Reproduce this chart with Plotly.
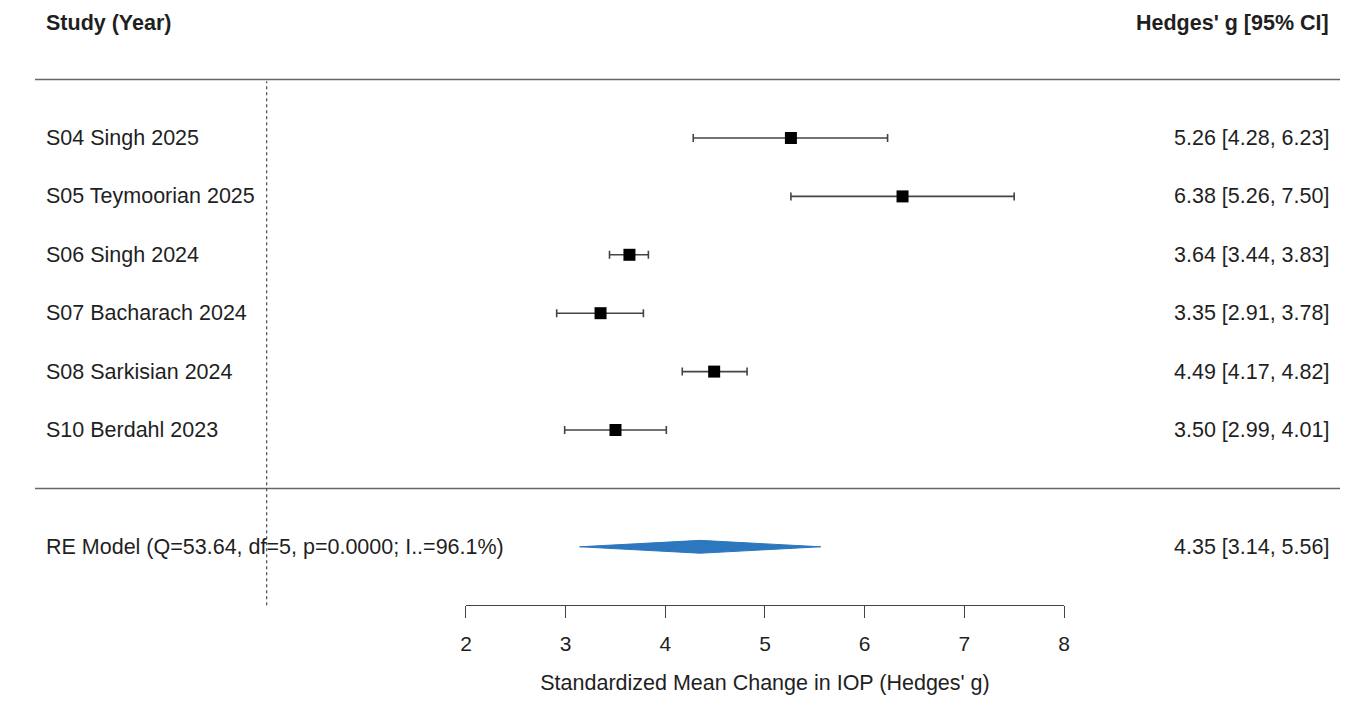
import plotly.graph_objects as go

# ---- data ----
studies = ["S04 Singh 2025", "S05 Teymoorian 2025", "S06 Singh 2024",
           "S07 Bacharach 2024", "S08 Sarkisian 2024", "S10 Berdahl 2023"]
est = [5.26, 6.38, 3.64, 3.35, 4.49, 3.50]
ci_lo = [4.28, 5.26, 3.44, 2.91, 4.17, 2.99]
ci_hi = [6.23, 7.50, 3.83, 3.78, 4.82, 4.01]
re_label = "RE Model (Q=53.64, df=5, p=0.0000; I..=96.1%)"
re_est, re_lo, re_hi = 4.35, 3.14, 5.56
tick_vals = [2, 3, 4, 5, 6, 7, 8]
header_left = "Study (Year)"
header_right = "Hedges' g [95% CI]"
x_title = "Standardized Mean Change in IOP (Hedges' g)"

# ---- layout helpers ----
W, H = 1360, 696          # page body has an 8px margin
FONT = "Liberation Sans, Arial, sans-serif"
FS = 21.5
TXT = "#1f1f1f"
k = len(studies)
rows = list(range(k, 0, -1))          # y positions of studies (top -> bottom)
y_re = -1
x_range = [-2.595, 11.05]
y_range = [-3.692, 8.226]
x_left_lab = -2.234
x_right_lab = 10.679

fig = go.Figure()

# study estimates with CIs
fig.add_trace(go.Scatter(
    x=est, y=rows, mode="markers",
    marker=dict(symbol="square", size=12, color="black"),
    error_x=dict(type="data", symmetric=False,
                 array=[h - e for h, e in zip(ci_hi, est)],
                 arrayminus=[e - l for e, l in zip(est, ci_lo)],
                 color="#444444", thickness=1.6, width=4),
    hoverinfo="skip", showlegend=False))

# RE diamond
dh = 0.11
fig.add_trace(go.Scatter(
    x=[re_lo, re_est, re_hi, re_est, re_lo],
    y=[y_re, y_re + dh, y_re, y_re - dh, y_re],
    mode="lines", fill="toself", fillcolor="#2c77bd",
    line=dict(color="#2c77bd", width=1),
    hoverinfo="skip", showlegend=False))

# invisible trace on the visible bottom axis so it renders
fig.add_trace(go.Scatter(x=[tick_vals[0], tick_vals[-1]], y=[y_re, y_re],
                         xaxis="x2", mode="markers", marker=dict(opacity=0),
                         hoverinfo="skip", showlegend=False))

# separator lines and reference line
for yy in (k + 1, 0):
    fig.add_shape(type="line", x0=-2.324, x1=10.769, y0=yy, y1=yy,
                  line=dict(color="#666666", width=1.5))
fig.add_shape(type="line", x0=0, x1=0, y0=-2, y1=k + 0.97,
              line=dict(color="#555555", width=1.3, dash="dot"))

# text columns
ann = []
ann.append(dict(x=x_left_lab, y=k + 1.97, text="<b>" + header_left + "</b>",
                xanchor="left"))
ann.append(dict(x=x_right_lab, y=k + 1.97, text="<b>" + header_right + "</b>",
                xanchor="right"))
for s, y, e, l, h in zip(studies, rows, est, ci_lo, ci_hi):
    ann.append(dict(x=x_left_lab, y=y, text=s, xanchor="left"))
    ann.append(dict(x=x_right_lab, y=y, text=f"{e:.2f} [{l:.2f}, {h:.2f}]",
                    xanchor="right"))
ann.append(dict(x=x_left_lab, y=y_re, text=re_label, xanchor="left"))
ann.append(dict(x=x_right_lab, y=y_re,
                text=f"{re_est:.2f} [{re_lo:.2f}, {re_hi:.2f}]", xanchor="right"))
for a in ann:
    a.update(xref="x", yref="y", showarrow=False, yanchor="middle",
             font=dict(family=FONT, size=FS, color=TXT))
fig.update_layout(annotations=ann)

def xfrac(v):
    return (v - x_range[0]) / (x_range[1] - x_range[0])

def yfrac(v):
    return (v - y_range[0]) / (y_range[1] - y_range[0])

fig.update_layout(
    width=W, height=H,
    margin=dict(l=0, r=0, t=0, b=0),
    paper_bgcolor="white", plot_bgcolor="rgba(0,0,0,0)",
    xaxis=dict(range=x_range, visible=False, domain=[0, 1]),
    yaxis=dict(range=y_range, visible=False, domain=[0, 1]),
    xaxis2=dict(range=[tick_vals[0], tick_vals[-1]],
                domain=[xfrac(tick_vals[0]), xfrac(tick_vals[-1])],
                anchor="free", position=yfrac(-2), automargin=False,
                tickvals=tick_vals, ticktext=[str(t) for t in tick_vals],
                ticks="outside", ticklen=12, tickwidth=1.3, tickcolor="#444444",
                showline=True, linecolor="#444444", linewidth=1.3,
                showgrid=False, zeroline=False,
                tickfont=dict(family=FONT, size=21, color=TXT),
                ticklabelstandoff=7,
                title=dict(text=x_title, standoff=21,
                           font=dict(family=FONT, size=FS, color=TXT))),
    font=dict(family=FONT, color=TXT),
)

fig.write_html("out.html")
